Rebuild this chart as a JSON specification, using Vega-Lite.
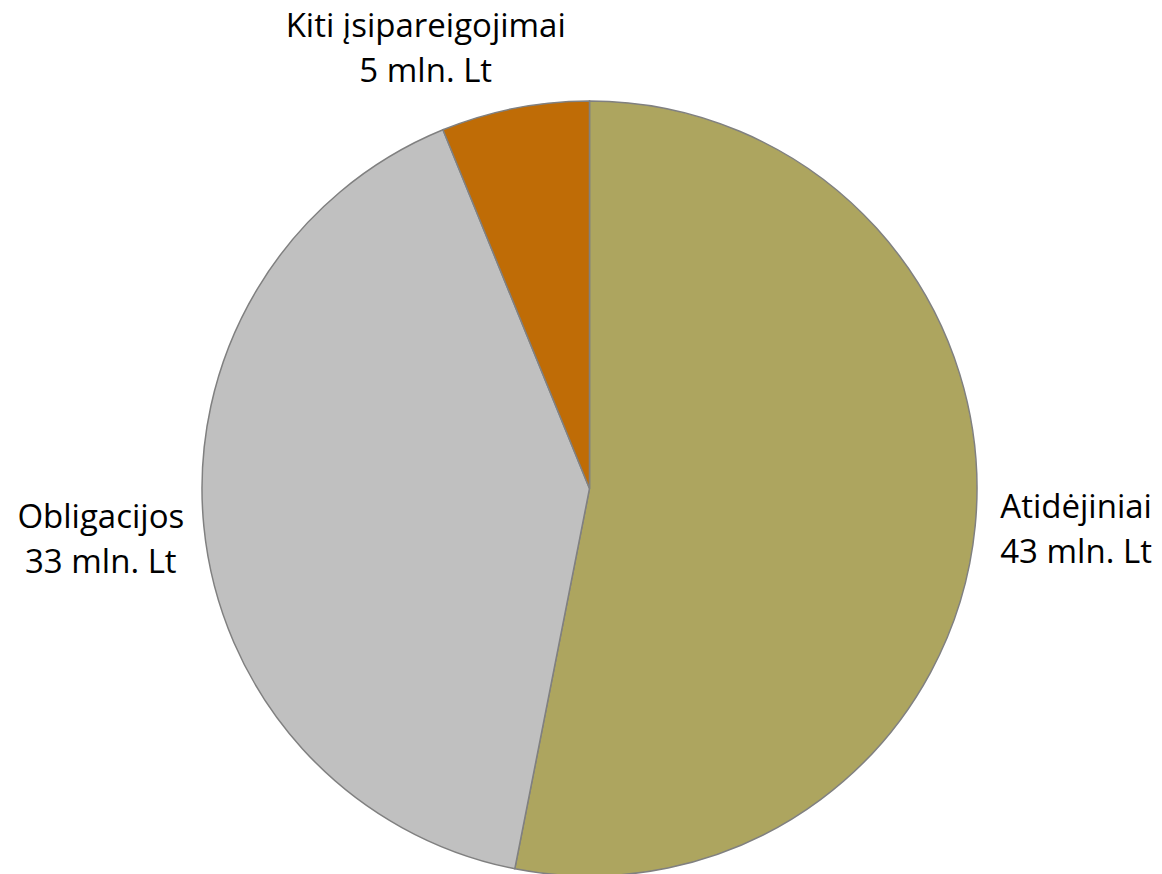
{
  "$schema": "https://vega.github.io/schema/vega-lite/v6.json",
  "width": 1145,
  "height": 771,
  "autosize": "none",
  "padding": {"left": 17, "right": 0, "top": 103, "bottom": 0},
  "background": "white",
  "view": {"stroke": null},
  "data": {
    "values": [
      {"category": "Atidėjiniai", "value": 43},
      {"category": "Obligacijos", "value": 33},
      {"category": "Kiti įsipareigojimai", "value": 5}
    ]
  },
  "transform": [
    {"window": [{"op": "row_number", "as": "rank"}]},
    {"calculate": "datum.category + '\\n' + datum.value + ' mln. Lt'", "as": "label"}
  ],
  "encoding": {
    "theta": {"field": "value", "type": "quantitative", "stack": true},
    "order": {"field": "rank", "type": "quantitative"}
  },
  "layer": [
    {
      "mark": {"type": "arc", "outerRadius": 387.5, "stroke": "#808080", "strokeWidth": 1.5},
      "encoding": {
        "color": {
          "field": "category",
          "type": "nominal",
          "scale": {
            "domain": ["Atidėjiniai", "Obligacijos", "Kiti įsipareigojimai"],
            "range": ["#ADA55F", "#C0C0C0", "#BF6C06"]
          },
          "legend": null
        }
      }
    },
    {
      "mark": {"type": "text", "radius": 488, "thetaOffset": -0.0206, "dy": -18, "font": "Open Sans", "fontSize": 33, "lineHeight": 45, "lineBreak": "\n", "align": "center", "baseline": "middle", "color": "black"},
      "encoding": {
        "text": {"condition": {"test": "datum.category === 'Atidėjiniai'", "field": "label"}, "value": ""}
      }
    },
    {
      "mark": {"type": "text", "radius": 491, "dy": -18, "font": "Open Sans", "fontSize": 33, "lineHeight": 45, "lineBreak": "\n", "align": "center", "baseline": "middle", "color": "black"},
      "encoding": {
        "text": {"condition": {"test": "datum.category === 'Obligacijos'", "field": "label"}, "value": ""}
      }
    },
    {
      "mark": {"type": "text", "radius": 470, "dy": -21, "thetaOffset": -0.162, "font": "Open Sans", "fontSize": 33, "lineHeight": 45, "lineBreak": "\n", "align": "center", "baseline": "middle", "color": "black"},
      "encoding": {
        "text": {"condition": {"test": "datum.category === 'Kiti įsipareigojimai'", "field": "label"}, "value": ""}
      }
    }
  ]
}
